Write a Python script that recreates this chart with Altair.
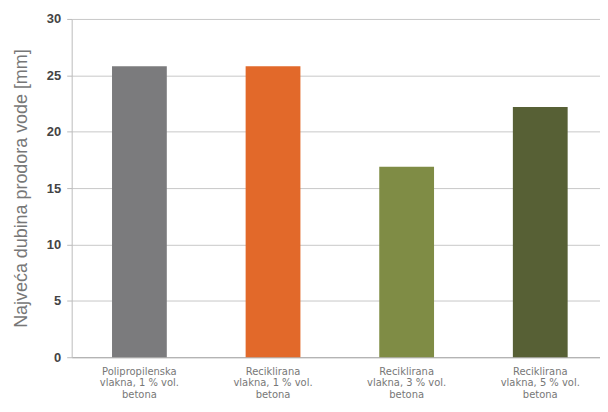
import altair as alt
import pandas as pd

categories = ["Polipropilenska|vlakna, 1 % vol.|betona",
              "Reciklirana|vlakna, 1 % vol.|betona",
              "Reciklirana|vlakna, 3 % vol.|betona",
              "Reciklirana|vlakna, 5 % vol.|betona"]
values = [25.8, 25.8, 16.9, 22.2]
colors = ["#7b7b7d", "#e2692a", "#7f8c45", "#576035"]

df = pd.DataFrame({"cat": categories, "val": values, "col": colors})

chart = alt.Chart(df).mark_bar().encode(
    x=alt.X("cat:N", sort=categories, title=None,
            scale=alt.Scale(paddingInner=0.59, paddingOuter=0.272, align=0.555),
            axis=alt.Axis(labelAngle=0, labelExpr="split(datum.label, '|')",
                          labelFontSize=10, labelColor="#777", labelLineHeight=11.5,
                          labelPadding=9, ticks=False, domainColor="#aaa",
                          labelFont="DejaVu Sans")),
    y=alt.Y("val:Q", title="Najveća dubina prodora vode [mm]",
            scale=alt.Scale(domain=[0, 30]),
            axis=alt.Axis(values=[0, 5, 10, 15, 20, 25, 30], gridColor="#c8c8c8",
                          domainColor="#bbb", tickColor="#bbb", tickSize=5,
                          labelFontSize=13, labelColor="#444", labelFontWeight="bold",
                          labelFont="Liberation Sans", labelPadding=6,
                          titleFontSize=18, titleColor="#777", titleFontWeight="normal",
                          titleFont="Liberation Sans", titlePadding=16)),
    color=alt.Color("col:N", scale=None),
).properties(
    width=531, height=340,
    autosize=alt.AutoSizeParams(type="none"),
    padding={"left": 64, "top": 10, "right": 0, "bottom": 46},
).configure_view(stroke=None)

chart.save("out.html", embed_options={"renderer": "svg", "actions": False})
